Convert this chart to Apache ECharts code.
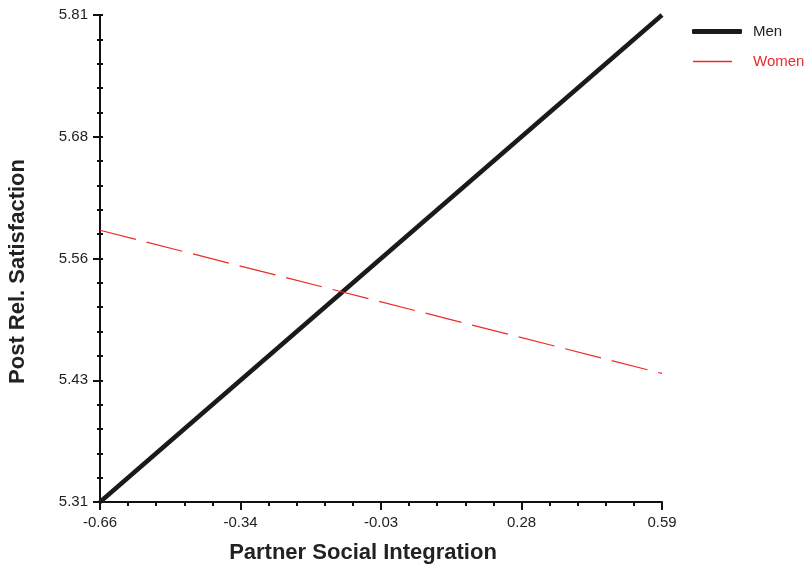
<!DOCTYPE html>
<html>
<head>
<meta charset="utf-8">
<script src="https://cdn.jsdelivr.net/npm/echarts@6/dist/echarts.min.js"></script>
<style>html,body{margin:0;padding:0;background:#fff}#c{width:809px;height:565px}</style>
</head>
<body>
<div id="c"></div>
<script>
var xRange = [-0.66, 0.59];
var yRange = [5.31, 5.81];
var xTickLabels = ["-0.66", "-0.34", "-0.03", "0.28", "0.59"];
var yTickLabels = ["5.31", "5.43", "5.56", "5.68", "5.81"];
var xValues = [-0.66, 0.59];
var menValues = [5.31, 5.81];
var womenValues = [5.589, 5.442];

function ticks(range, n) {
  var out = [];
  for (var i = 0; i < n; i++) out.push(range[0] + (range[1] - range[0]) * i / (n - 1));
  return out;
}
var xMajor = ticks(xRange, xTickLabels.length);
var yMajor = ticks(yRange, yTickLabels.length);
var xMinor = ticks(xRange, (xTickLabels.length - 1) * 5 + 1);
var yMinor = ticks(yRange, (yTickLabels.length - 1) * 5 + 1);
function labelFor(vals, labels) {
  return function (v) {
    var best = 0, bd = Infinity;
    for (var i = 0; i < vals.length; i++) { var d = Math.abs(vals[i] - v); if (d < bd) { bd = d; best = i; } }
    return labels[best];
  };
}
var font = 'Liberation Sans, Arial, Helvetica, sans-serif';
var chart = echarts.init(document.getElementById('c'), null, {renderer: 'canvas'});
var baseX = {type: 'value', min: xRange[0], max: xRange[1], splitLine: {show: false}};
var baseY = {type: 'value', min: yRange[0], max: yRange[1], splitLine: {show: false}};
chart.setOption({
  animation: false,
  backgroundColor: '#fff',
  grid: {left: 100, right: 147, top: 15, bottom: 63, containLabel: false, outerBoundsMode: 'none'},
  textStyle: {fontFamily: font},
  xAxis: [
    Object.assign({}, baseX, {
      position: 'bottom', offset: 0,
      name: 'Partner Social Integration', nameLocation: 'middle', nameGap: 40, nameMoveOverlap: false,
      nameTextStyle: {fontSize: 22, fontWeight: 'bold', color: '#222', fontFamily: font, padding: [0, 36, 0, 0]},
      axisLine: {show: true, onZero: false, lineStyle: {color: '#111', width: 2}},
      axisTick: {show: true, customValues: xMajor, length: 8, inside: false, lineStyle: {color: '#111', width: 2}},
      axisLabel: {show: true, customValues: xMajor, formatter: labelFor(xMajor, xTickLabels), fontSize: 15, color: '#222', margin: 13, fontFamily: font}
    }),
    Object.assign({}, baseX, {
      position: 'bottom', offset: 0,
      axisLine: {show: false, onZero: false},
      axisTick: {show: true, customValues: xMinor, length: 4, inside: false, lineStyle: {color: '#111', width: 2}},
      axisLabel: {show: false}
    })
  ],
  yAxis: [
    Object.assign({}, baseY, {
      position: 'left', offset: 0,
      name: 'Post Rel. Satisfaction', nameLocation: 'middle', nameGap: 71, nameRotate: 90, nameMoveOverlap: false,
      nameTextStyle: {fontSize: 22, fontWeight: 'bold', color: '#222', fontFamily: font, padding: [0, 26, 0, 0]},
      axisLine: {show: true, onZero: false, lineStyle: {color: '#111', width: 2}},
      axisTick: {show: true, customValues: yMajor, length: 7, inside: false, lineStyle: {color: '#111', width: 2}},
      axisLabel: {show: true, customValues: yMajor, formatter: labelFor(yMajor, yTickLabels), fontSize: 15, color: '#222', margin: 12, fontFamily: font}
    }),
    Object.assign({}, baseY, {
      position: 'left', offset: 0,
      axisLine: {show: false, onZero: false},
      axisTick: {show: true, customValues: yMinor, length: 3, inside: false, lineStyle: {color: '#111', width: 2}},
      axisLabel: {show: false}
    }),
    Object.assign({}, baseY, {
      position: 'left', offset: 0,
      axisLine: {show: false, onZero: false},
      axisTick: {show: true, customValues: yMinor, length: 3, inside: true, lineStyle: {color: '#111', width: 2}},
      axisLabel: {show: false}
    })
  ],
  legend: [
    {
      data: [{name: 'Men', icon: 'roundRect', itemStyle: {color: '#1a1a1a'}}],
      left: 687, top: 19, itemWidth: 50, itemHeight: 5, orient: 'vertical',
      textStyle: {color: '#222', fontSize: 15, padding: [0, 0, 0, 6], fontFamily: font}
    },
    {
      data: [{name: 'Women', icon: 'rect', itemStyle: {color: '#ee2a2a'}}],
      left: 688, top: 49, itemWidth: 39, itemHeight: 1.5, orient: 'vertical',
      textStyle: {color: '#ee2a2a', fontSize: 15, padding: [0, 0, 0, 16], fontFamily: font}
    }
  ],
  series: [
    {
      name: 'Men', type: 'line', symbol: 'none', xAxisIndex: 0, yAxisIndex: 0,
      data: xValues.map(function (x, i) { return [x, menValues[i]]; }),
      lineStyle: {color: '#1a1a1a', width: 4.5}, itemStyle: {color: '#1a1a1a'}
    },
    {
      name: 'Women', type: 'line', symbol: 'none', xAxisIndex: 0, yAxisIndex: 0,
      data: xValues.map(function (x, i) { return [x, womenValues[i]]; }),
      lineStyle: {color: '#ee2a2a', width: 1.2, type: [37, 11]}, itemStyle: {color: '#ee2a2a'}
    }
  ]
});
</script>
</body>
</html>
